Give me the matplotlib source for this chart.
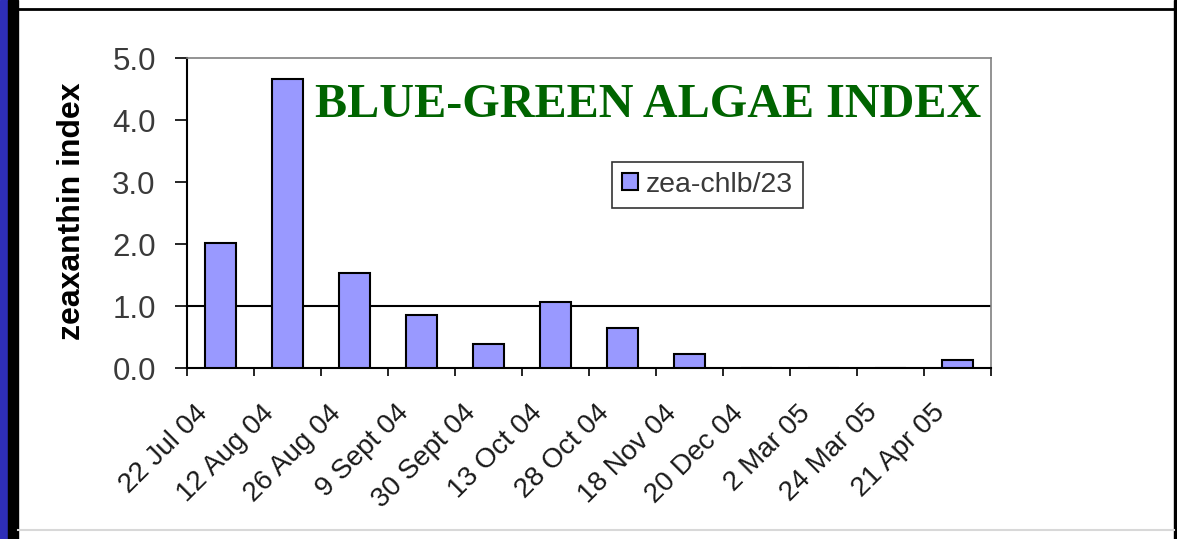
import numpy as np
import matplotlib
matplotlib.use("Agg")
import matplotlib.pyplot as plt
import matplotlib.transforms as mtransforms
from matplotlib.patches import Rectangle
from matplotlib.lines import Line2D

# values
dates = ['22 Jul 04', '12 Aug 04', '26 Aug 04', '9 Sept 04', '30 Sept 04', '13 Oct 04',
         '28 Oct 04', '18 Nov 04', '20 Dec 04', '2 Mar 05', '24 Mar 05', '21 Apr 05']
zea_index = [2.02, 4.66, 1.53, 0.86, 0.38, 1.06, 0.64, 0.23, 0.0, 0.0, 0.0, 0.13]
y_ticks = [0.0, 1.0, 2.0, 3.0, 4.0, 5.0]
threshold = 1.0

W, H = 1177, 539
fig = plt.figure(figsize=(W / 100, H / 100), dpi=100)
fig.patch.set_facecolor('white')

# slide frame: blue + black strip on the left, black rules top/right
fig.patches.append(Rectangle((0, 0), 8 / W, 1, transform=fig.transFigure, color='#2e2eb8', zorder=0))
fig.patches.append(Rectangle((8 / W, 0), 10 / W, 1, transform=fig.transFigure, color='black', zorder=0))
fig.patches.append(Rectangle((1174 / W, 0), 3 / W, 1, transform=fig.transFigure, color='black', zorder=0))
fig.lines.append(Line2D([18 / W, 1], [1 - 9 / H, 1 - 9 / H], transform=fig.transFigure, color='black', lw=2))
fig.lines.append(Line2D([18 / W, 1174 / W], [1 - 530 / H, 1 - 530 / H], transform=fig.transFigure,
                        color='#d8d8d8', lw=1.5))

ax = fig.add_axes([187 / W, 1 - 368 / H, 804 / W, 310 / H])
x = np.arange(len(dates))
ax.bar(x, zea_index, width=0.45, color='#9999ff', edgecolor='black', linewidth=1.5,
       label='zea-chlb/23', zorder=3)
ax.axhline(threshold, color='black', lw=1.5, zorder=2)

ax.set_xlim(-0.5, len(dates) - 0.5)
ax.set_ylim(0, 5)
ax.set_yticks(y_ticks)
ax.set_yticklabels([f'{v:.1f}' for v in y_ticks])
ax.tick_params(axis='y', direction='out', length=8.5, width=1.2, labelsize=22.5,
               labelcolor='#3a3a3a', pad=14)

# category boundary ticks, labels at centres
ax.set_xticks(np.arange(-0.5, len(dates)), minor=True)
ax.set_xticks(x)
ax.set_xticklabels(dates, rotation=45, ha='right', va='top', rotation_mode='anchor')
ax.tick_params(axis='x', which='major', length=0, labelsize=20, labelcolor='#1a1a1a', pad=23)
ax.tick_params(axis='x', which='minor', direction='out', length=5.5, width=1.2)
offset = mtransforms.ScaledTranslation(-26 / 100, 0, fig.dpi_scale_trans)
for lbl in ax.get_xticklabels():
    lbl.set_transform(lbl.get_transform() + offset)

for side in ['top', 'right']:
    ax.spines[side].set_color('#808080')
    ax.spines[side].set_linewidth(1.2)
for side in ['left', 'bottom']:
    ax.spines[side].set_color('black')
    ax.spines[side].set_linewidth(1.5)

ax.set_ylabel('zeaxanthin index', fontsize=23, fontweight='bold', family='Liberation Sans',
              va='center')
ax.yaxis.set_label_coords(-0.143, 0.506)

ax.text(0.159, 0.848, 'BLUE-GREEN ALGAE INDEX', transform=ax.transAxes, family='Liberation Serif',
        fontsize=34.7, fontweight='bold', color='#006400', ha='left', va='center')

leg = ax.legend(loc='upper left', bbox_to_anchor=(612 / W, 1 - 162 / H), bbox_transform=fig.transFigure,
                fontsize=20.5, frameon=True, fancybox=False, handlelength=0.55, handleheight=0.55,
                handletextpad=0.3, borderpad=0.35, borderaxespad=0)
leg.get_frame().set_edgecolor('black')
leg.get_frame().set_linewidth(1.2)
for t in leg.get_texts():
    t.set_color('#3a3a3a')

plt.rcParams['font.family'] = ['Liberation Sans', 'DejaVu Sans']
for lbl in ax.get_xticklabels() + ax.get_yticklabels() + leg.get_texts():
    lbl.set_family('Liberation Sans')

fig.savefig('out.png', dpi=100, facecolor=fig.get_facecolor())
